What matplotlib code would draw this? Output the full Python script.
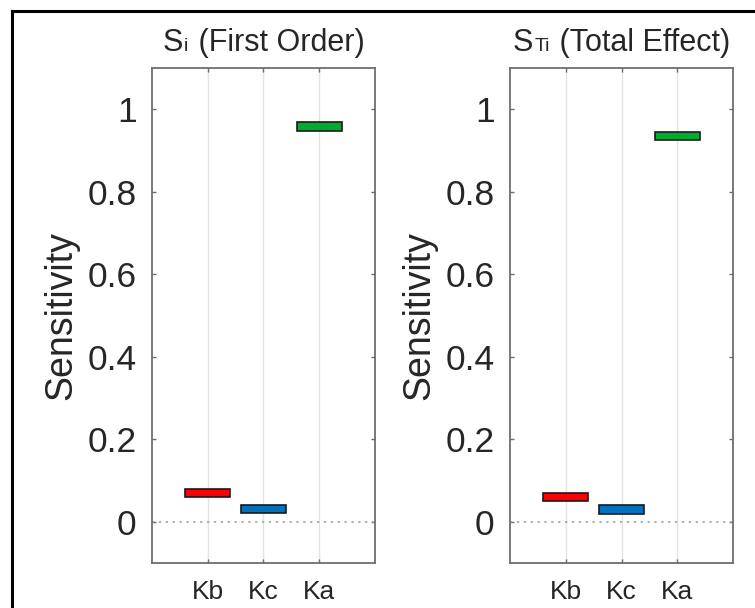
import numpy as np
import matplotlib.pyplot as plt
from matplotlib.lines import Line2D
from matplotlib.offsetbox import TextArea, HPacker, AnchoredOffsetbox

plt.rcParams['font.family'] = ['Liberation Sans', 'DejaVu Sans']

params = ["Kb", "Kc", "Ka"]
first_order = [0.070, 0.031, 0.958]
total_effect = [0.060, 0.030, 0.936]
half_height = 0.01
colors = ["#ff0000", "#0072bd", "#00ab30"]
# title pieces: (main letter, subscript, rest)
titles = [("S", "i", " (First Order)"), ("S", "Ti", " (Total Effect)")]

txt = "#262626"
spine = "#6e6e6e"

fig = plt.figure(figsize=(7.55, 6.08), dpi=100)
ax_left = fig.add_axes([0.2013, 0.074, 0.2954, 0.8141])
ax_right = fig.add_axes([0.6755, 0.074, 0.2954, 0.8141])

x = np.arange(1, len(params) + 1)
for ax, vals, title in zip([ax_left, ax_right], [first_order, total_effect], titles):
    vals = np.array(vals)
    ax.bar(x, 2 * half_height, bottom=vals - half_height, width=0.8,
           color=colors, edgecolor="#1a1a1a", linewidth=1.2, zorder=3)
    ax.axhline(0, color="#9a9a9a", linestyle=(0, (1.5, 3)), linewidth=1.1, zorder=2)
    ax.set_xlim(0, 4)
    ax.set_ylim(-0.1, 1.1)
    ax.set_xticks(x)
    ax.set_xticklabels(params, fontsize=19, color=txt)
    ax.set_yticks([0, 0.2, 0.4, 0.6, 0.8, 1])
    ax.set_yticklabels(["0", "0.2", "0.4", "0.6", "0.8", "1"], fontsize=25.5, color=txt)
    ax.tick_params(axis="x", direction="in", length=3, width=1, color=spine,
                   top=True, pad=12)
    ax.tick_params(axis="y", direction="in", length=3, width=1, color=spine,
                   right=True, pad=11)
    ax.grid(axis="x", color="#e3e3e3", linewidth=1.0, zorder=0)
    ax.set_axisbelow(True)
    for s in ax.spines.values():
        s.set_color(spine)
        s.set_linewidth(1.3)
    ax.set_ylabel("Sensitivity", fontsize=27, color=txt, labelpad=6)

    # title with a small subscript sitting on the baseline (MATLAB style)
    main, sub, rest = title
    pack = HPacker(children=[TextArea(main, textprops=dict(fontsize=22, color=txt)),
                             TextArea(sub, textprops=dict(fontsize=14, color=txt)),
                             TextArea(rest, textprops=dict(fontsize=22, color=txt))],
                   align="baseline", pad=0, sep=1)
    box = AnchoredOffsetbox(loc="lower center", child=pack, pad=0, borderpad=0,
                            bbox_to_anchor=(0.5, 1.02), bbox_transform=ax.transAxes,
                            frameon=False)
    ax.add_artist(box)

# outer frame (partly cropped in the source image)
W, H = 755, 608
fig.add_artist(Line2D([12 / W, 1.0], [1 - 11 / H, 1 - 11 / H], color="black",
                      linewidth=2.2, transform=fig.transFigure))
fig.add_artist(Line2D([12 / W, 12 / W], [0.0, 1 - 11 / H], color="black",
                      linewidth=2.2, transform=fig.transFigure))

fig.savefig("out.png", dpi=100)
